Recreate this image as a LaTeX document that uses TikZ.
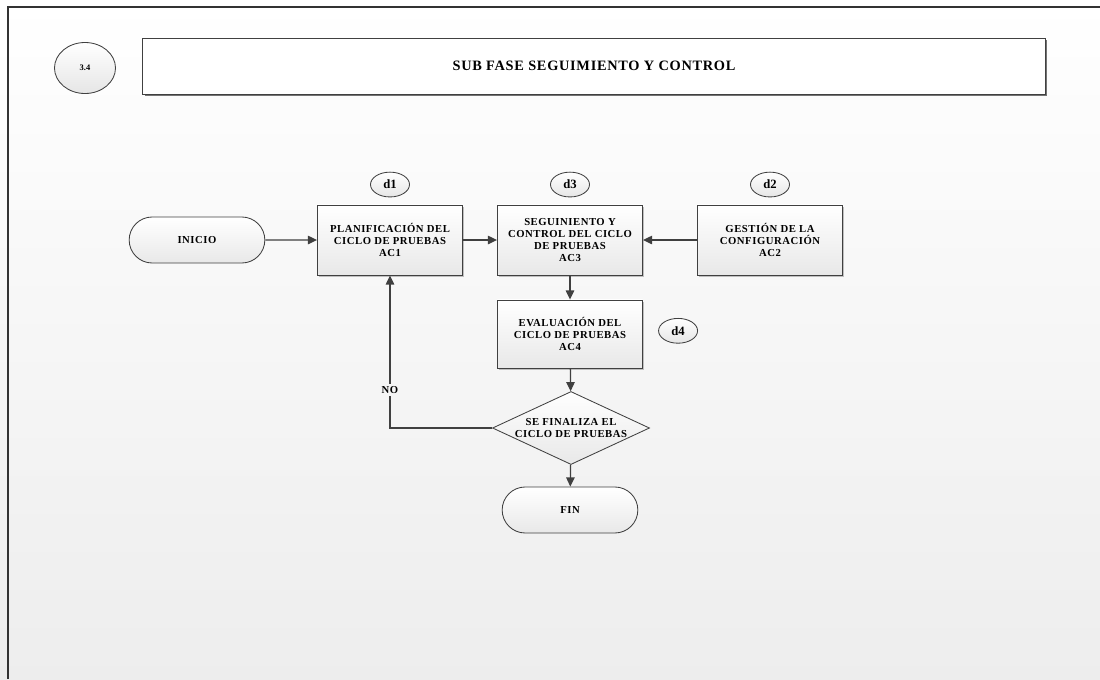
\documentclass[tikz,border=0pt]{standalone}
\usepackage{fontspec}
\setmainfont{Liberation Serif}
\newfontfamily\spacedfont[LetterSpace=5]{Liberation Serif}
\usetikzlibrary{shapes,arrows.meta,positioning,shadows}

\begin{document}
\begin{tikzpicture}[x=0.025cm, y=-0.025cm,
    box/.style={rectangle, draw=black!75, line width=0.6pt, top color=white, bottom color=black!9, minimum width=3.625cm, minimum height=1.75cm, align=center, font=\spacedfont\bfseries\fontsize{7.6}{8.5}\selectfont, drop shadow={shadow xshift=1.2pt, shadow yshift=-1.2pt, fill=black!25, opacity=1}},
    term/.style={rounded rectangle, draw=black!75, line width=0.6pt, top color=white, bottom color=black!9, minimum width=3.625cm, minimum height=1.15cm, font=\spacedfont\bfseries\fontsize{7.6}{8.5}\selectfont},
    decision/.style={diamond, aspect=2.15, draw=black!75, line width=0.6pt, top color=white, bottom color=black!9, minimum width=3.925cm, minimum height=1.825cm, inner sep=0pt, align=center, font=\spacedfont\bfseries\fontsize{7.6}{8.8}\selectfont},
    tag/.style={ellipse, draw=black!75, line width=0.6pt, top color=white, bottom color=black!10, minimum width=0.975cm, minimum height=0.62cm, inner sep=0pt, font=\bfseries\fontsize{9}{10}\selectfont},
    flow/.style={draw=black!75, line width=0.9pt, -{Triangle[length=6.5pt, width=6pt]}}]
    % page
    \shade[top color=white, bottom color=black!7] (0,0) rectangle (1100,679);
    \useasboundingbox (0,0) rectangle (1100,679);
    \draw[black!80, line width=0.8pt] (1100,7) -- (8,7) -- (8,679);

    % heading
    \node[ellipse, draw=black!75, line width=0.6pt, top color=white, bottom color=black!10, minimum width=1.525cm, minimum height=1.275cm, font=\bfseries\fontsize{6}{7}\selectfont] (phase) at (85,68) {3.4};
    \node[rectangle, draw=black!75, line width=0.7pt, fill=white, minimum width=22.55cm, minimum height=1.4cm, font=\spacedfont\bfseries\fontsize{10.2}{12}\selectfont, drop shadow={shadow xshift=1.6pt, shadow yshift=-1.6pt, fill=black!55, opacity=1}] (title) at (594,66) {SUB FASE SEGUIMIENTO Y CONTROL};

    % activities
    \node[term] (start) at (197,240) {INICIO};
    \node[box] (plan) at (390,240) {PLANIFICACIÓN DEL\\CICLO DE PRUEBAS\\AC1};
    \node[box] (track) at (570,240) {SEGUINIENTO Y\\CONTROL DEL CICLO\\DE PRUEBAS\\AC3};
    \node[box] (config) at (770,240) {GESTIÓN DE LA\\CONFIGURACIÓN\\AC2};
    \node[box, minimum height=1.7cm] (eval) at (570,334) {EVALUACIÓN DEL\\CICLO DE PRUEBAS\\AC4};
    \node[decision] (check) at (571,428) {SE FINALIZA EL\\CICLO DE PRUEBAS};
    \node[term] (end) at (570,510) {FIN};

    % deliverables
    \node[tag, above=0.18cm of plan] (d1) {d1};
    \node[tag, above=0.18cm of track] (d3) {d3};
    \node[tag, above=0.18cm of config] (d2) {d2};
    \node[tag, right=0.38cm of eval, yshift=0.08cm] (d4) {d4};

    % flow
    \draw[flow] (start) -- (plan);
    \draw[flow] (plan) -- (track);
    \draw[flow] (config) -- (track);
    \draw[flow] (track) -- (eval);
    \draw[flow] (eval) -- (check);
    \draw[flow] (check) -- (end);
    \draw[flow] (check.west) -| node[pos=0.625, fill=black!4, inner sep=1.5pt, font=\spacedfont\bfseries\fontsize{7.6}{8.5}\selectfont] {NO} (plan.south);
\end{tikzpicture}
\end{document}
